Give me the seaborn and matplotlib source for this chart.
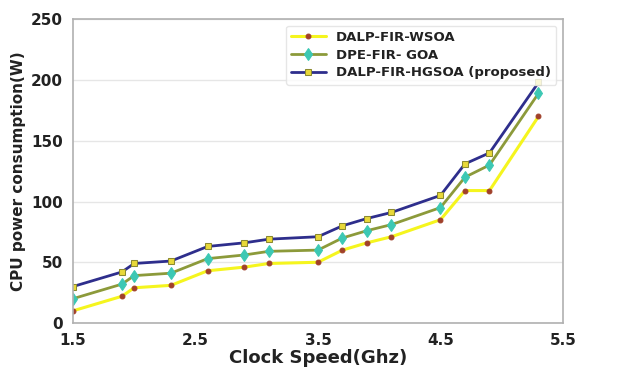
import numpy as np
import pandas as pd
import matplotlib
matplotlib.use('Agg')
import matplotlib.pyplot as plt
import seaborn as sns

# clock speed values (Ghz)
clock_speed = [1.5, 1.9, 2.0, 2.3, 2.6, 2.9, 3.1, 3.5, 3.7, 3.9, 4.1, 4.5, 4.7, 4.9, 5.3]

# CPU power consumption (W) per method
wsoa = [10, 22, 29, 31, 43, 46, 49, 50, 60, 66, 71, 85, 109, 109, 170]
goa = [20, 32, 39, 41, 53, 56, 59, 60, 70, 76, 81, 95, 120, 130, 189]
hgsoa = [30, 42, 49, 51, 63, 66, 69, 71, 80, 86, 91, 105, 131, 140, 198]

labels = ['DALP-FIR-WSOA', 'DPE-FIR- GOA', 'DALP-FIR-HGSOA (proposed)']

sns.set_theme(style='whitegrid')
plt.rcParams['font.family'] = ['DejaVu Sans']

fig, ax = plt.subplots(figsize=(6.18, 3.70), dpi=100)

sns.lineplot(x=clock_speed, y=wsoa, ax=ax, color='#f5f51e', linewidth=2.2,
             marker='o', markersize=3.5, markerfacecolor='#a0402a',
             markeredgecolor='#a0402a', label=labels[0])
sns.lineplot(x=clock_speed, y=goa, ax=ax, color='#8c9a3a', linewidth=2.0,
             marker='d', markersize=6.5, markerfacecolor='#3cc8b4',
             markeredgecolor='#3cc8b4', label=labels[1])
sns.lineplot(x=clock_speed, y=hgsoa, ax=ax, color='#2e2e8c', linewidth=2.0,
             marker='s', markersize=4.5, markerfacecolor='#e8d83a',
             markeredgecolor='#8c8a30', label=labels[2])

ax.set_xlim(1.5, 5.5)
ax.set_ylim(0, 250)
ax.set_xticks([1.5, 2.5, 3.5, 4.5, 5.5])
ax.set_yticks(np.arange(0, 251, 50))
ax.xaxis.grid(False)
ax.yaxis.grid(True, color='#e6e6e6', linewidth=1)
for s in ax.spines.values():
    s.set_color('#b0b0b0')
    s.set_linewidth(1.2)

for t in ax.get_xticklabels() + ax.get_yticklabels():
    t.set_fontweight('bold')
    t.set_fontsize(11)
    t.set_color('#222222')
ax.tick_params(axis='both', pad=1)

ax.set_xlabel('Clock Speed(Ghz)', fontsize=13, fontweight='bold', color='#222222', labelpad=1)
ax.set_ylabel('CPU power consumption(W)', fontsize=11, fontweight='bold', color='#222222')

leg = ax.legend(loc='upper right', prop={'weight': 'bold', 'size': 9.5},
                frameon=True, handlelength=2.6, borderaxespad=0.5, labelspacing=0.35)
leg.get_frame().set_edgecolor('#e0e0e0')
for txt in leg.get_texts():
    txt.set_color('#222222')

plt.subplots_adjust(left=0.118, right=0.911, top=0.948, bottom=0.127)
plt.savefig('out.png', dpi=100)
